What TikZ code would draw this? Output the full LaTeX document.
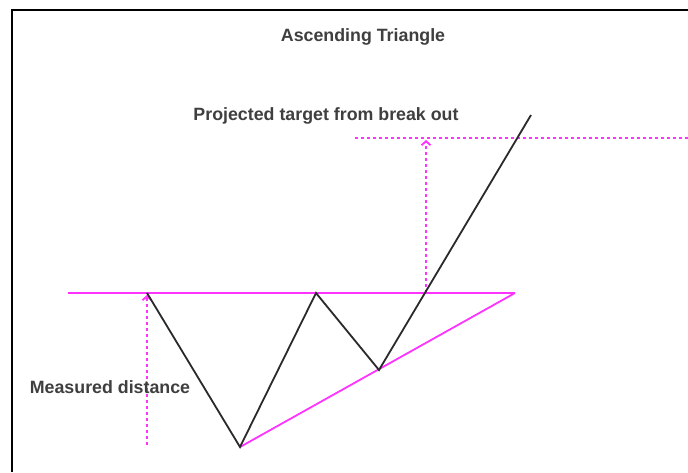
\documentclass[tikz,border=0pt]{standalone}
\usepackage{fontspec}
\setmainfont{Liberation Sans}
\usetikzlibrary{arrows.meta}
\definecolor{mag}{HTML}{FF33FF}
\definecolor{ink}{HTML}{2A2A2A}
\begin{document}
\begin{tikzpicture}[x=1pt,y=-1pt,
  frame/.style={draw=black,line width=2pt},
  solidmag/.style={draw=mag,line width=1.8pt},
  dotmag/.style={draw=mag,line width=2.2pt,dash pattern=on 3pt off 3pt},
  price/.style={draw=ink,line width=1.8pt,line join=miter},
  lbl/.style={text=ink!90,font=\bfseries\fontsize{17.8}{21}\selectfont,inner sep=0pt},
  tipb/.style={-{Straight Barb[length=4pt,width=9pt,line width=1.8pt]}}]
\useasboundingbox (0,0) rectangle (688,472);
\fill[white] (0,0) rectangle (688,472);
% frame
\coordinate (fl) at (12,472);
\coordinate (ftl) at (12,10);
\coordinate (ftr) at (688,10);
\draw[frame] (fl) -- (ftl) -- (ftr);
% key points
\coordinate (rl) at (68,293);
\coordinate (rr) at (515,293);
\coordinate (p1) at (147,293);
\coordinate (p2) at (240,447);
\coordinate (p3) at (316,293);
\coordinate (p4) at (379,370);
\coordinate (p5) at (531,115);
\coordinate (bo) at (426,293);
\coordinate (tl) at (355,138);
\coordinate (tr) at (688,138);
\coordinate (tb) at (426,140);
\coordinate (ml) at (147,445);
\coordinate (mt) at (147,295);
% resistance and support
\draw[solidmag] (rl) -- (rr);
\draw[solidmag] (p2) -- (rr);
% target line
\draw[dotmag] (tl) -- (tr);
% arrows
\draw[dotmag,tipb] (bo) -- (tb);
\draw[dotmag,tipb] (ml) -- (mt);
% price
\draw[price] (p1) -- (p2) -- (p3) -- (p4) -- (p5);
% labels
\node[lbl] (title) at (363,37) {Ascending Triangle};
\node[lbl] (proj) at (326,116) {Projected target from break out};
\node[lbl] (meas) at (110,387) {Measured distance};
\end{tikzpicture}
\end{document}
